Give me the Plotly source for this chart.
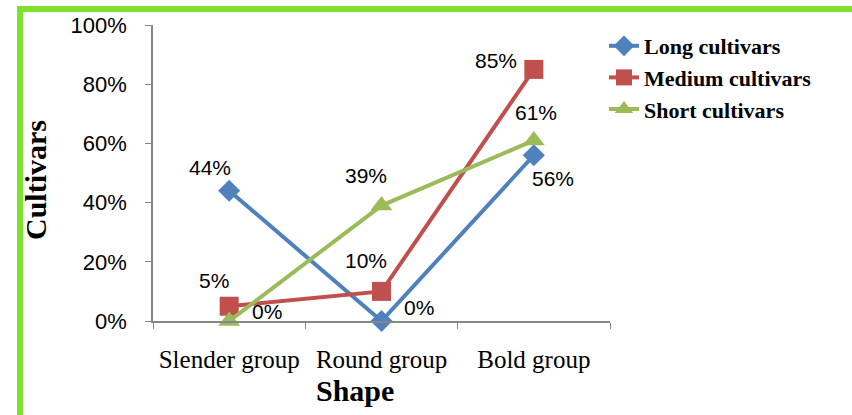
import plotly.graph_objects as go

categories = ["Slender group", "Round group", "Bold group"]
long_vals = [0.44, 0.0, 0.56]
medium_vals = [0.05, 0.10, 0.85]
short_vals = [0.0, 0.39, 0.61]
series_names = ["Long cultivars", "Medium cultivars", "Short cultivars"]
y_ticks = [0, 0.2, 0.4, 0.6, 0.8, 1.0]

colors = ["#4F81BD", "#C0504D", "#9BBB59"]
symbols = ["diamond", "square", "triangle-up"]
msizes = [17, 19, 19]
# label offsets in pixels (dx, dy) relative to each point
label_offsets = [
    [(-19, 23), (37, 14), (19, -23)],
    [(-15, 26), (-16, 31), (-38, 9)],
    [(38, 10), (-16, 30), (2, 28)],
]

fig = go.Figure()
annotations = []
for name, vals, c, s, ms, offs in zip(series_names, [long_vals, medium_vals, short_vals],
                                       colors, symbols, msizes, label_offsets):
    fig.add_trace(go.Scatter(
        x=categories, y=vals, name=f"<b>{name}</b>", mode="lines+markers",
        line=dict(color=c, width=4),
        marker=dict(symbol=s, size=ms, color=c),
        cliponaxis=False,
    ))
    for cat, v, (dx, dy) in zip(categories, vals, offs):
        annotations.append(dict(
            x=cat, y=v, xref="x", yref="y", text=f"{round(v*100)}%",
            showarrow=False, xshift=dx, yshift=dy,
            xanchor="center", yanchor="middle",
            font=dict(family="Liberation Sans, Arial, sans-serif", size=21, color="black"),
        ))

L, R, T, B = 153, 242, 25, 94
W, H = 852, 415
pw, ph = W - L - R, H - T - B

def px(x):
    return (x - L) / pw

def py(y):
    return (H - B - y) / ph

annotations += [
    dict(text="<b>Cultivars</b>", x=px(35), y=py(180), xref="paper", yref="paper",
         xanchor="center", yanchor="middle",
         textangle=-90, showarrow=False,
         font=dict(family="Liberation Serif, Times New Roman, serif", size=30, color="black")),
    dict(text="<b>Shape</b>", x=px(355), y=py(390), xref="paper", yref="paper",
         xanchor="center", yanchor="middle",
         showarrow=False,
         font=dict(family="Liberation Serif, Times New Roman, serif", size=30, color="black")),
]

fig.update_layout(
    width=W, height=H,
    margin=dict(l=L, r=R, t=T, b=B, autoexpand=False),
    paper_bgcolor="white", plot_bgcolor="white",
    showlegend=True,
    legend=dict(x=px(604), y=py(25), xanchor="left", yanchor="top",
                font=dict(family="Liberation Serif, Times New Roman, serif", size=22, color="black"),
                bgcolor="rgba(0,0,0,0)", tracegroupgap=0, itemsizing="trace"),
    xaxis=dict(
        type="category", range=[-0.5, 2.5], tickson="boundaries",
        showline=True, linecolor="#868686", linewidth=1.5,
        ticks="outside", ticklen=6, tickcolor="#868686",
        showgrid=False, zeroline=False, tickangle=0, automargin=False,
        tickfont=dict(family="Liberation Serif, Times New Roman, serif", size=25, color="black"),
        ticklabelstandoff=15,
    ),
    yaxis=dict(
        range=[0, 1], tickvals=y_ticks, tickformat=".0%",
        showline=True, linecolor="#868686", linewidth=1.5,
        ticks="outside", ticklen=6, tickcolor="#868686",
        showgrid=False, zeroline=False, automargin=False,
        tickfont=dict(family="Liberation Sans, Arial, sans-serif", size=22, color="black"),
        ticklabelstandoff=14,
    ),
    annotations=annotations,
    shapes=[
        dict(type="rect", xref="paper", yref="paper",
             x0=px(20), x1=px(900), y0=py(470), y1=py(9),
             line=dict(color="#7FE030", width=6), fillcolor="rgba(0,0,0,0)", layer="below"),
    ],
)

fig.write_html("out.html")
